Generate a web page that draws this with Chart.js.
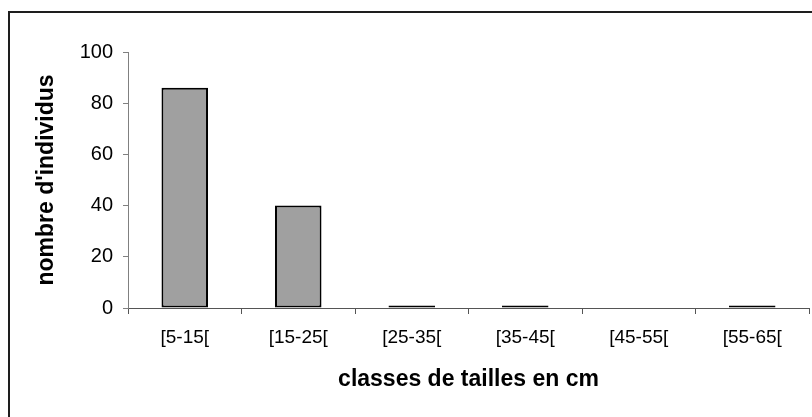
<!DOCTYPE html>
<html>
<head>
<meta charset="utf-8">
<script src="https://cdn.jsdelivr.net/npm/chart.js@4/dist/chart.umd.min.js"></script>
<style>
    html, body { margin: 0; padding: 0; background: #fff; overflow: hidden; }
    #wrap { position: relative; width: 812px; height: 417px; overflow: hidden; }
    #frame { position: absolute; left: 8px; top: 11px; width: 900px; height: 500px;
             border: 2px solid #1e1e1e; box-sizing: border-box; }
    #sizeChart { position: absolute; left: 0; top: 0; }
</style>
</head>
<body>
<div id="wrap">
    <div id="frame"></div>
    <canvas id="sizeChart" width="812" height="417"></canvas>
</div>
<script>
const classes = ['[5-15[', '[15-25[', '[25-35[', '[35-45[', '[45-55[', '[55-65['];
const individus = [86, 40, 1, 1, 0, 1];
const yTicks = [0, 20, 40, 60, 80, 100];

document.addEventListener('DOMContentLoaded', () => {
    drawSizeChart();
});

function drawSizeChart() {
    const ctx = document.getElementById('sizeChart').getContext('2d');

    new Chart(ctx, {
        type: 'bar',
        data: {
            labels: classes,
            datasets: [{
                label: "nombre d'individus",
                data: individus,
                backgroundColor: '#a0a0a0',
                borderColor: '#000000',
                borderWidth: 2,
                borderSkipped: false,
                barPercentage: 0.41,
                categoryPercentage: 1
            }]
        },
        options: {
            responsive: false,
            animation: false,
            layout: { padding: { left: 0, top: 52, right: 3, bottom: 0 } },
            plugins: {
                legend: { display: false },
                tooltip: { enabled: false }
            },
            scales: {
                x: {
                    afterFit: s => { s.height = 109; },
                    grid: {
                        offset: true,
                        drawOnChartArea: false,
                        tickLength: 6,
                        color: '#555555'
                    },
                    border: { color: '#555555', width: 1 },
                    ticks: {
                        color: '#000',
                        padding: 12,
                        maxRotation: 0,
                        font: { family: 'Liberation Sans, Arial', size: 19 }
                    },
                    title: {
                        display: true,
                        text: 'classes de tailles en cm',
                        color: '#000',
                        padding: { top: 0, bottom: 24 },
                        font: { family: 'Liberation Sans, Arial', size: 23, weight: 'bold' }
                    }
                },
                y: {
                    min: 0,
                    max: 100,
                    afterFit: s => { s.width = 128; },
                    afterBuildTicks: s => { s.ticks = yTicks.map(v => ({ value: v })); },
                    grid: {
                        drawOnChartArea: false,
                        tickLength: 5,
                        color: '#808080'
                    },
                    border: { color: '#808080', width: 1 },
                    ticks: {
                        color: '#000',
                        padding: 10,
                        font: { family: 'Liberation Sans, Arial', size: 20 }
                    },
                    title: {
                        display: true,
                        text: "nombre d'individus",
                        color: '#000',
                        padding: { top: 33, bottom: 0 },
                        font: { family: 'Liberation Sans, Arial', size: 23, weight: 'bold' }
                    }
                }
            }
        }
    });
}
</script>
</body>
</html>
